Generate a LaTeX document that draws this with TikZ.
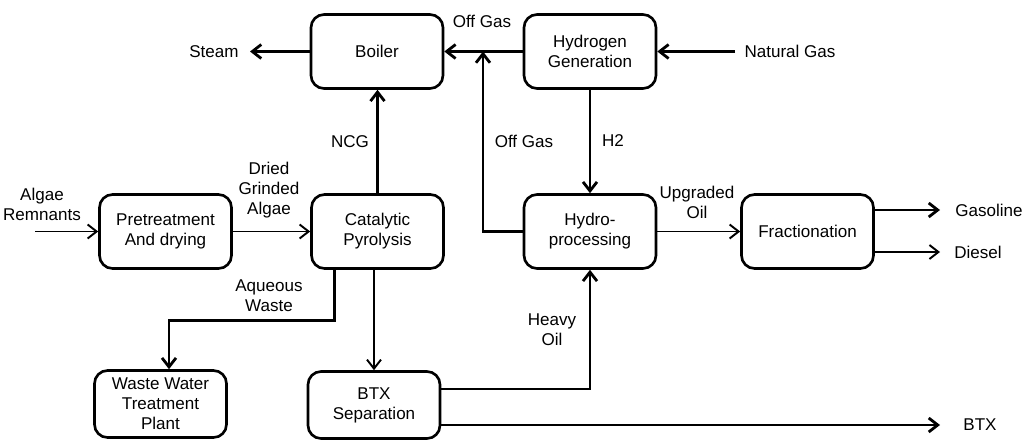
\documentclass[tikz,border=0pt]{standalone}
\usepackage{fontspec}
\setmainfont{Liberation Sans}
\usetikzlibrary{arrows.meta,positioning,calc}

\begin{document}
\begin{tikzpicture}[
    x=0.02cm, y=-0.02cm,
    font=\fontsize{9.7}{11.4}\selectfont,
    unit/.style={draw, line width=1.5pt, rounded corners=2.6mm, minimum width=2.64cm, minimum height=1.48cm, align=center},
    lowunit/.style={unit, minimum height=1.34cm},
    stream/.style={-{Straight Barb[length=1.8mm,width=2.8mm]}, line width=1.6pt},
    thinstream/.style={-{Straight Barb[length=1.8mm,width=2.8mm]}, line width=1.1pt},
    lbl/.style={align=center, inner sep=0pt}
  ]
    \useasboundingbox (0,0) rectangle (1034,440);

    % process units
    \node[unit] (boiler) at (377,51.5) {Boiler};
    \node[unit] (hydrogen) at (590,51.5) {Hydrogen\\Generation};
    \node[unit] (pretreat) at (165.5,231.5) {Pretreatment\\And drying};
    \node[unit] (pyrolysis) at (377.5,231.5) {Catalytic\\Pyrolysis};
    \node[unit] (hydroproc) at (590,231.5) {Hydro-\\processing};
    \node[unit] (fraction) at (807.5,231.5) {Fractionation};
    \node[lowunit] (wastewater) at (160.5,404) {Waste Water\\Treatment\\Plant};
    \node[lowunit] (btx) at (374,405) {BTX\\Separation};

    % free ends
    \coordinate (steamend) at (250,51.5);
    \coordinate (natgasstart) at (735,51.5);
    \coordinate (offgasjoin) at (483,51.5);
    \coordinate (algaestart) at (35,231.5);
    \coordinate (gasolineend) at (940,210);
    \coordinate (dieselend) at (940,252);
    \coordinate (btxend) at (940,425);

    % streams
    \draw[stream] (boiler.west) -- (steamend);
    \draw[stream] (hydrogen.west) -- (boiler.east);
    \draw[stream] (natgasstart) -- (hydrogen.east);
    \draw[stream] (hydroproc.west) -| (offgasjoin);
    \draw[stream] (hydrogen.south) -- (hydroproc.north);
    \draw[stream] (pyrolysis.north) -- (pyrolysis.north |- boiler.south);
    \draw[thinstream] (algaestart) -- (pretreat.west);
    \draw[thinstream] (pretreat.east) -- (pyrolysis.west);
    \draw[stream] ($(pyrolysis.south west)!0.18!(pyrolysis.south east)$) -- ++(0,51) -| ($(wastewater.north)+(8.5,0)$);
    \draw[thinstream] (btx.north |- pyrolysis.south) -- (btx.north);
    \draw[stream] ($(btx.east)+(0,-16)$) -| (hydroproc.south);
    \draw[stream] ($(btx.east)+(0,20)$) -- (btxend);
    \draw[thinstream] (hydroproc.east) -- (fraction.west);
    \draw[stream] ($(fraction.east)+(0,-21.5)$) -- (gasolineend);
    \draw[thinstream] ($(fraction.east)+(0,20.5)$) -- (dieselend);

    % stream labels
    \node[lbl] (steam) at (214,51.5) {Steam};
    \node[lbl] (offgastop) at (482,21) {Off Gas};
    \node[lbl] (offgasside) at (524,141) {Off Gas};
    \node[lbl] (htwo) at (613,141) {H2};
    \node[lbl] (natgas) at (790,51.5) {Natural Gas};
    \node[lbl] (ncg) at (350,142) {NCG};
    \node[lbl] (algae) at (42,204) {Algae\\Remnants};
    \node[lbl] (dried) at (269,190) {Dried\\Grinded\\Algae};
    \node[lbl] (aqueous) at (269,296) {Aqueous\\Waste};
    \node[lbl] (heavyoil) at (552,330) {Heavy\\Oil};
    \node[lbl] (upgraded) at (697,202) {Upgraded\\Oil};
    \node[lbl] (gasoline) at (989,210) {Gasoline};
    \node[lbl] (diesel) at (978,252) {Diesel};
    \node[lbl] (btxout) at (980,425) {BTX};
\end{tikzpicture}
\end{document}
